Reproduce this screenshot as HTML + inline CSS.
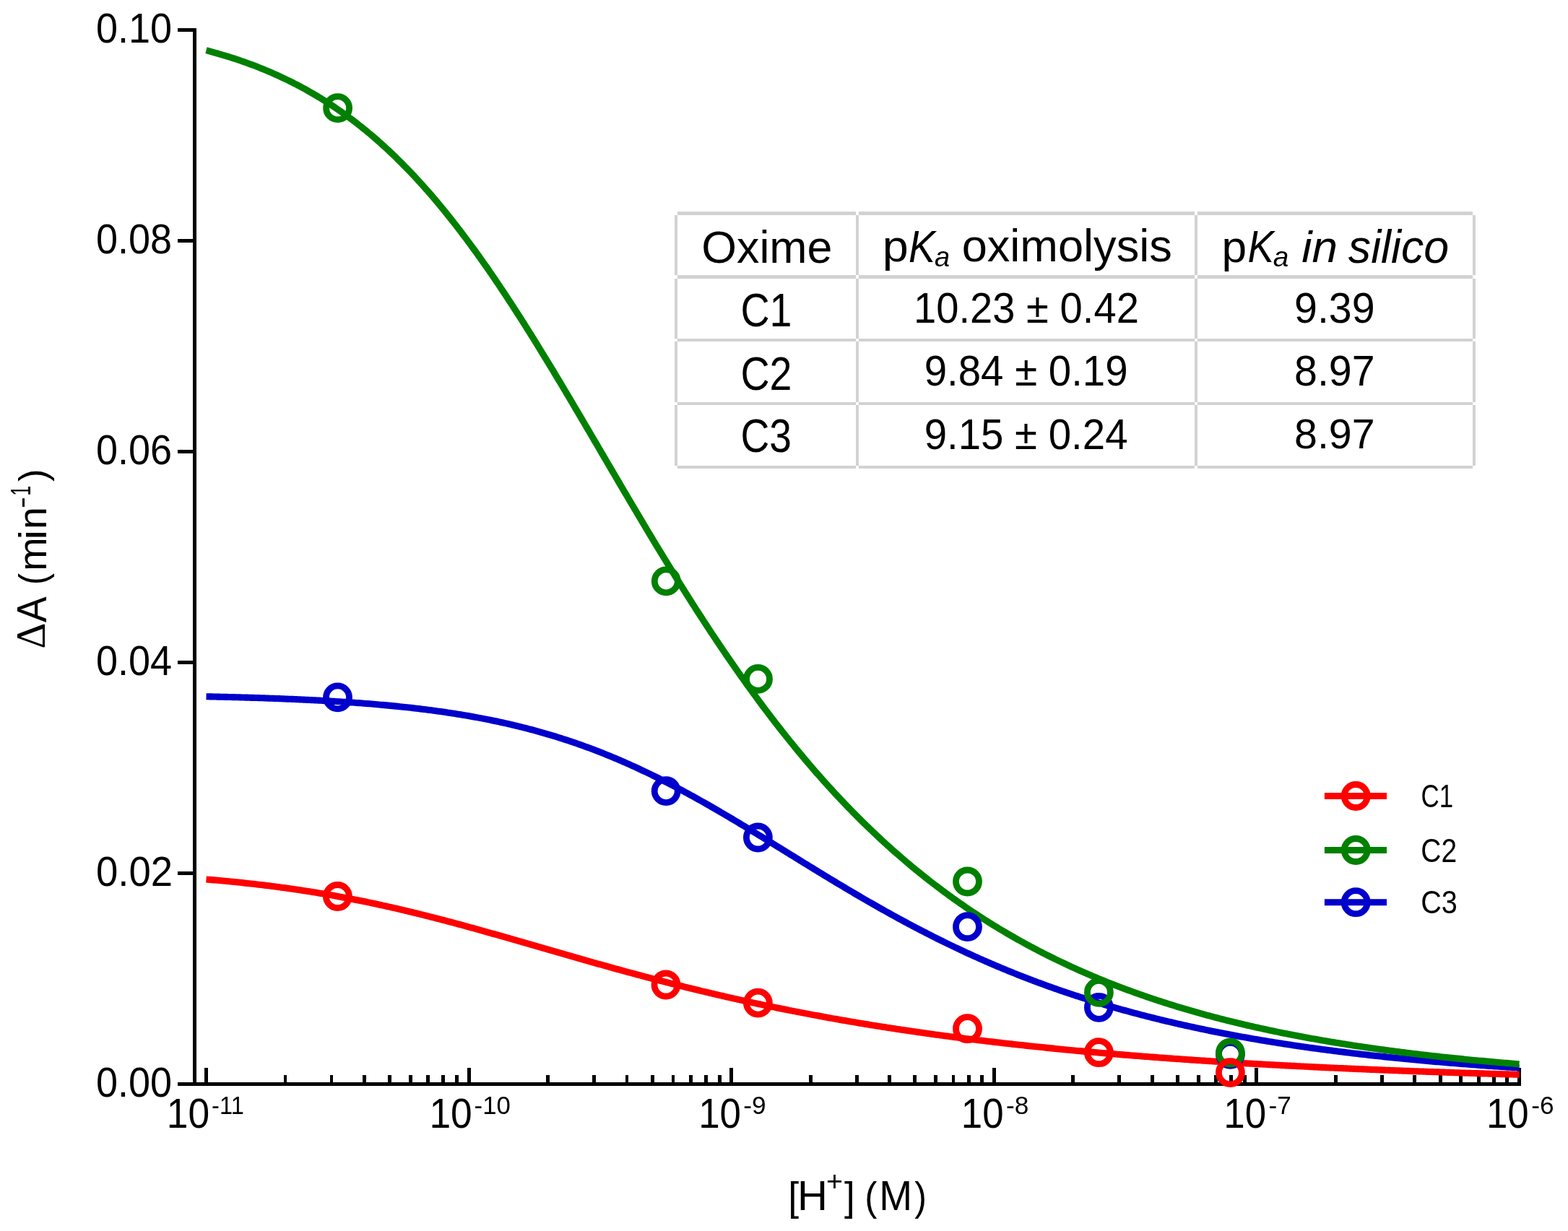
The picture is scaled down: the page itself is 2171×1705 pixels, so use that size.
<!DOCTYPE html>
<html><head><meta charset="utf-8"><title>pKa oximolysis</title><style>html,body{margin:0;padding:0;background:#fff;}svg{display:block;}</style></head><body>
<svg width="2171" height="1705" viewBox="0 0 2171 1705">
<rect width="2171" height="1705" fill="#fff"/>
<path d="M934,293 H938 V649 H934 Z M1185,293 H1189 V649 H1185 Z M1654,293 H1658 V649 H1654 Z M2039,293 H2043 V649 H2039 Z M934,293 V298 H2043 V293 Z M934,381 V386 H2043 V381 Z M934,469 V473 H2043 V469 Z M934,557 V561 H2043 V557 Z M934,645 V649 H2043 V645 Z" fill="#D2D2D2" shape-rendering="crispEdges"/>
<path d="M269.4,39.05 V1501.5 M246.0,1501.5 H2105.8 M246.0,1501.50 H269.4 M246.0,1209.50 H269.4 M246.0,917.50 H269.4 M246.0,625.50 H269.4 M246.0,333.50 H269.4 M246.0,41.50 H269.4 M285.50,1501.5 V1479.10 M394.95,1501.5 V1489.10 M458.98,1501.5 V1489.10 M504.41,1501.5 V1489.10 M539.65,1501.5 V1489.10 M568.44,1501.5 V1489.10 M592.78,1501.5 V1489.10 M613.86,1501.5 V1489.10 M632.46,1501.5 V1489.10 M649.10,1501.5 V1479.10 M758.55,1501.5 V1489.10 M822.58,1501.5 V1489.10 M868.01,1501.5 V1489.10 M903.25,1501.5 V1489.10 M932.04,1501.5 V1489.10 M956.38,1501.5 V1489.10 M977.46,1501.5 V1489.10 M996.06,1501.5 V1489.10 M1012.70,1501.5 V1479.10 M1122.15,1501.5 V1489.10 M1186.18,1501.5 V1489.10 M1231.61,1501.5 V1489.10 M1266.85,1501.5 V1489.10 M1295.64,1501.5 V1489.10 M1319.98,1501.5 V1489.10 M1341.06,1501.5 V1489.10 M1359.66,1501.5 V1489.10 M1376.30,1501.5 V1479.10 M1485.75,1501.5 V1489.10 M1549.78,1501.5 V1489.10 M1595.21,1501.5 V1489.10 M1630.45,1501.5 V1489.10 M1659.24,1501.5 V1489.10 M1683.58,1501.5 V1489.10 M1704.66,1501.5 V1489.10 M1723.26,1501.5 V1489.10 M1739.90,1501.5 V1479.10 M1849.35,1501.5 V1489.10 M1913.38,1501.5 V1489.10 M1958.81,1501.5 V1489.10 M1994.05,1501.5 V1489.10 M2022.84,1501.5 V1489.10 M2047.18,1501.5 V1489.10 M2068.26,1501.5 V1489.10 M2086.86,1501.5 V1489.10 M2103.50,1501.5 V1479.10" stroke="#000" stroke-width="4.9" fill="none" stroke-linecap="butt" shape-rendering="crispEdges"/>
<path d="M285.50,964.75 L288.10,964.81 L290.70,964.86 L293.30,964.92 L295.90,964.98 L298.50,965.03 L301.11,965.09 L303.71,965.15 L306.31,965.21 L308.91,965.27 L311.51,965.34 L314.11,965.40 L316.71,965.46 L319.31,965.53 L321.91,965.60 L324.51,965.66 L327.11,965.73 L329.71,965.80 L332.32,965.87 L334.92,965.95 L337.52,966.02 L340.12,966.10 L342.72,966.17 L345.32,966.25 L347.92,966.33 L350.52,966.41 L353.12,966.49 L355.72,966.57 L358.32,966.65 L360.92,966.74 L363.53,966.82 L366.13,966.91 L368.73,967.00 L371.33,967.09 L373.93,967.18 L376.53,967.28 L379.13,967.37 L381.73,967.47 L384.33,967.56 L386.93,967.66 L389.53,967.76 L392.14,967.87 L394.74,967.97 L397.34,968.08 L399.94,968.19 L402.54,968.29 L405.14,968.41 L407.74,968.52 L410.34,968.63 L412.94,968.75 L415.54,968.87 L418.14,968.99 L420.74,969.11 L423.35,969.23 L425.95,969.36 L428.55,969.49 L431.15,969.62 L433.75,969.75 L436.35,969.88 L438.95,970.02 L441.55,970.16 L444.15,970.30 L446.75,970.44 L449.35,970.59 L451.95,970.73 L454.56,970.88 L457.16,971.04 L459.76,971.19 L462.36,971.35 L464.96,971.51 L467.56,971.67 L470.16,971.83 L472.76,972.00 L475.36,972.17 L477.96,972.34 L480.56,972.51 L483.17,972.69 L485.77,972.87 L488.37,973.06 L490.97,973.24 L493.57,973.43 L496.17,973.62 L498.77,973.82 L501.37,974.01 L503.97,974.21 L506.57,974.42 L509.17,974.62 L511.77,974.83 L514.38,975.05 L516.98,975.26 L519.58,975.48 L522.18,975.70 L524.78,975.93 L527.38,976.16 L529.98,976.39 L532.58,976.63 L535.18,976.87 L537.78,977.11 L540.38,977.36 L542.98,977.61 L545.59,977.87 L548.19,978.13 L550.79,978.39 L553.39,978.66 L555.99,978.93 L558.59,979.20 L561.19,979.48 L563.79,979.76 L566.39,980.05 L568.99,980.34 L571.59,980.64 L574.20,980.94 L576.80,981.24 L579.40,981.55 L582.00,981.86 L584.60,982.18 L587.20,982.50 L589.80,982.83 L592.40,983.16 L595.00,983.50 L597.60,983.84 L600.20,984.18 L602.80,984.54 L605.41,984.89 L608.01,985.25 L610.61,985.62 L613.21,985.99 L615.81,986.37 L618.41,986.75 L621.01,987.14 L623.61,987.53 L626.21,987.93 L628.81,988.34 L631.41,988.75 L634.02,989.16 L636.62,989.58 L639.22,990.01 L641.82,990.44 L644.42,990.88 L647.02,991.33 L649.62,991.78 L652.22,992.24 L654.82,992.70 L657.42,993.17 L660.02,993.65 L662.62,994.13 L665.23,994.62 L667.83,995.11 L670.43,995.61 L673.03,996.12 L675.63,996.64 L678.23,997.16 L680.83,997.69 L683.43,998.23 L686.03,998.77 L688.63,999.32 L691.23,999.88 L693.83,1000.44 L696.44,1001.01 L699.04,1001.59 L701.64,1002.18 L704.24,1002.77 L706.84,1003.37 L709.44,1003.98 L712.04,1004.60 L714.64,1005.22 L717.24,1005.86 L719.84,1006.50 L722.44,1007.14 L725.05,1007.80 L727.65,1008.46 L730.25,1009.13 L732.85,1009.81 L735.45,1010.50 L738.05,1011.20 L740.65,1011.90 L743.25,1012.61 L745.85,1013.33 L748.45,1014.06 L751.05,1014.80 L753.65,1015.54 L756.26,1016.30 L758.86,1017.06 L761.46,1017.83 L764.06,1018.61 L766.66,1019.40 L769.26,1020.20 L771.86,1021.01 L774.46,1021.82 L777.06,1022.65 L779.66,1023.48 L782.26,1024.32 L784.86,1025.18 L787.47,1026.04 L790.07,1026.90 L792.67,1027.78 L795.27,1028.67 L797.87,1029.57 L800.47,1030.47 L803.07,1031.39 L805.67,1032.31 L808.27,1033.25 L810.87,1034.19 L813.47,1035.14 L816.08,1036.10 L818.68,1037.07 L821.28,1038.05 L823.88,1039.04 L826.48,1040.04 L829.08,1041.05 L831.68,1042.07 L834.28,1043.10 L836.88,1044.13 L839.48,1045.18 L842.08,1046.23 L844.68,1047.30 L847.29,1048.37 L849.89,1049.45 L852.49,1050.54 L855.09,1051.65 L857.69,1052.76 L860.29,1053.88 L862.89,1055.01 L865.49,1056.14 L868.09,1057.29 L870.69,1058.45 L873.29,1059.61 L875.89,1060.79 L878.50,1061.97 L881.10,1063.17 L883.70,1064.37 L886.30,1065.58 L888.90,1066.80 L891.50,1068.03 L894.10,1069.26 L896.70,1070.51 L899.30,1071.76 L901.90,1073.03 L904.50,1074.30 L907.11,1075.58 L909.71,1076.87 L912.31,1078.16 L914.91,1079.47 L917.51,1080.78 L920.11,1082.10 L922.71,1083.43 L925.31,1084.77 L927.91,1086.12 L930.51,1087.47 L933.11,1088.83 L935.71,1090.20 L938.32,1091.57 L940.92,1092.96 L943.52,1094.35 L946.12,1095.75 L948.72,1097.15 L951.32,1098.56 L953.92,1099.98 L956.52,1101.41 L959.12,1102.84 L961.72,1104.28 L964.32,1105.73 L966.92,1107.18 L969.53,1108.64 L972.13,1110.10 L974.73,1111.57 L977.33,1113.05 L979.93,1114.53 L982.53,1116.02 L985.13,1117.51 L987.73,1119.01 L990.33,1120.52 L992.93,1122.03 L995.53,1123.54 L998.14,1125.06 L1000.74,1126.59 L1003.34,1128.12 L1005.94,1129.65 L1008.54,1131.19 L1011.14,1132.73 L1013.74,1134.28 L1016.34,1135.83 L1018.94,1137.38 L1021.54,1138.94 L1024.14,1140.50 L1026.74,1142.07 L1029.35,1143.64 L1031.95,1145.21 L1034.55,1146.78 L1037.15,1148.36 L1039.75,1149.94 L1042.35,1151.52 L1044.95,1153.11 L1047.55,1154.70 L1050.15,1156.29 L1052.75,1157.88 L1055.35,1159.48 L1057.95,1161.07 L1060.56,1162.67 L1063.16,1164.27 L1065.76,1165.87 L1068.36,1167.47 L1070.96,1169.07 L1073.56,1170.68 L1076.16,1172.28 L1078.76,1173.89 L1081.36,1175.49 L1083.96,1177.10 L1086.56,1178.71 L1089.17,1180.31 L1091.77,1181.92 L1094.37,1183.53 L1096.97,1185.13 L1099.57,1186.74 L1102.17,1188.34 L1104.77,1189.95 L1107.37,1191.55 L1109.97,1193.16 L1112.57,1194.76 L1115.17,1196.36 L1117.77,1197.96 L1120.38,1199.56 L1122.98,1201.16 L1125.58,1202.75 L1128.18,1204.34 L1130.78,1205.94 L1133.38,1207.53 L1135.98,1209.11 L1138.58,1210.70 L1141.18,1212.28 L1143.78,1213.86 L1146.38,1215.44 L1148.98,1217.02 L1151.59,1218.59 L1154.19,1220.16 L1156.79,1221.73 L1159.39,1223.29 L1161.99,1224.85 L1164.59,1226.41 L1167.19,1227.97 L1169.79,1229.52 L1172.39,1231.06 L1174.99,1232.61 L1177.59,1234.15 L1180.20,1235.68 L1182.80,1237.22 L1185.40,1238.75 L1188.00,1240.27 L1190.60,1241.79 L1193.20,1243.31 L1195.80,1244.82 L1198.40,1246.33 L1201.00,1247.83 L1203.60,1249.33 L1206.20,1250.82 L1208.80,1252.31 L1211.41,1253.80 L1214.01,1255.28 L1216.61,1256.75 L1219.21,1258.22 L1221.81,1259.69 L1224.41,1261.15 L1227.01,1262.60 L1229.61,1264.05 L1232.21,1265.50 L1234.81,1266.94 L1237.41,1268.37 L1240.02,1269.80 L1242.62,1271.23 L1245.22,1272.65 L1247.82,1274.06 L1250.42,1275.47 L1253.02,1276.87 L1255.62,1278.26 L1258.22,1279.65 L1260.82,1281.04 L1263.42,1282.42 L1266.02,1283.79 L1268.62,1285.16 L1271.23,1286.52 L1273.83,1287.88 L1276.43,1289.23 L1279.03,1290.57 L1281.63,1291.91 L1284.23,1293.24 L1286.83,1294.57 L1289.43,1295.89 L1292.03,1297.20 L1294.63,1298.51 L1297.23,1299.81 L1299.83,1301.11 L1302.44,1302.40 L1305.04,1303.68 L1307.64,1304.96 L1310.24,1306.23 L1312.84,1307.50 L1315.44,1308.76 L1318.04,1310.01 L1320.64,1311.26 L1323.24,1312.50 L1325.84,1313.73 L1328.44,1314.96 L1331.05,1316.18 L1333.65,1317.39 L1336.25,1318.60 L1338.85,1319.81 L1341.45,1321.00 L1344.05,1322.19 L1346.65,1323.38 L1349.25,1324.55 L1351.85,1325.73 L1354.45,1326.89 L1357.05,1328.05 L1359.65,1329.20 L1362.26,1330.35 L1364.86,1331.49 L1367.46,1332.62 L1370.06,1333.75 L1372.66,1334.87 L1375.26,1335.99 L1377.86,1337.10 L1380.46,1338.20 L1383.06,1339.30 L1385.66,1340.39 L1388.26,1341.47 L1390.86,1342.55 L1393.47,1343.62 L1396.07,1344.69 L1398.67,1345.74 L1401.27,1346.80 L1403.87,1347.85 L1406.47,1348.89 L1409.07,1349.92 L1411.67,1350.95 L1414.27,1351.97 L1416.87,1352.99 L1419.47,1354.00 L1422.08,1355.01 L1424.68,1356.00 L1427.28,1357.00 L1429.88,1357.98 L1432.48,1358.97 L1435.08,1359.94 L1437.68,1360.91 L1440.28,1361.87 L1442.88,1362.83 L1445.48,1363.78 L1448.08,1364.73 L1450.68,1365.67 L1453.29,1366.60 L1455.89,1367.53 L1458.49,1368.45 L1461.09,1369.37 L1463.69,1370.28 L1466.29,1371.19 L1468.89,1372.09 L1471.49,1372.98 L1474.09,1373.87 L1476.69,1374.75 L1479.29,1375.63 L1481.89,1376.50 L1484.50,1377.37 L1487.10,1378.23 L1489.70,1379.08 L1492.30,1379.93 L1494.90,1380.78 L1497.50,1381.62 L1500.10,1382.45 L1502.70,1383.28 L1505.30,1384.10 L1507.90,1384.92 L1510.50,1385.73 L1513.11,1386.54 L1515.71,1387.34 L1518.31,1388.14 L1520.91,1388.93 L1523.51,1389.72 L1526.11,1390.50 L1528.71,1391.28 L1531.31,1392.05 L1533.91,1392.82 L1536.51,1393.58 L1539.11,1394.33 L1541.71,1395.08 L1544.32,1395.83 L1546.92,1396.57 L1549.52,1397.31 L1552.12,1398.04 L1554.72,1398.77 L1557.32,1399.49 L1559.92,1400.21 L1562.52,1400.92 L1565.12,1401.63 L1567.72,1402.33 L1570.32,1403.03 L1572.92,1403.72 L1575.53,1404.41 L1578.13,1405.10 L1580.73,1405.78 L1583.33,1406.45 L1585.93,1407.12 L1588.53,1407.79 L1591.13,1408.45 L1593.73,1409.11 L1596.33,1409.76 L1598.93,1410.41 L1601.53,1411.05 L1604.14,1411.69 L1606.74,1412.33 L1609.34,1412.96 L1611.94,1413.59 L1614.54,1414.21 L1617.14,1414.83 L1619.74,1415.44 L1622.34,1416.05 L1624.94,1416.66 L1627.54,1417.26 L1630.14,1417.86 L1632.74,1418.45 L1635.35,1419.04 L1637.95,1419.63 L1640.55,1420.21 L1643.15,1420.79 L1645.75,1421.36 L1648.35,1421.93 L1650.95,1422.50 L1653.55,1423.06 L1656.15,1423.62 L1658.75,1424.17 L1661.35,1424.72 L1663.95,1425.27 L1666.56,1425.81 L1669.16,1426.35 L1671.76,1426.88 L1674.36,1427.42 L1676.96,1427.94 L1679.56,1428.47 L1682.16,1428.99 L1684.76,1429.51 L1687.36,1430.02 L1689.96,1430.53 L1692.56,1431.04 L1695.17,1431.54 L1697.77,1432.04 L1700.37,1432.54 L1702.97,1433.03 L1705.57,1433.52 L1708.17,1434.00 L1710.77,1434.49 L1713.37,1434.97 L1715.97,1435.44 L1718.57,1435.91 L1721.17,1436.38 L1723.77,1436.85 L1726.38,1437.31 L1728.98,1437.77 L1731.58,1438.23 L1734.18,1438.68 L1736.78,1439.13 L1739.38,1439.58 L1741.98,1440.02 L1744.58,1440.46 L1747.18,1440.90 L1749.78,1441.33 L1752.38,1441.76 L1754.98,1442.19 L1757.59,1442.62 L1760.19,1443.04 L1762.79,1443.46 L1765.39,1443.88 L1767.99,1444.29 L1770.59,1444.70 L1773.19,1445.11 L1775.79,1445.51 L1778.39,1445.92 L1780.99,1446.32 L1783.59,1446.71 L1786.20,1447.11 L1788.80,1447.50 L1791.40,1447.88 L1794.00,1448.27 L1796.60,1448.65 L1799.20,1449.03 L1801.80,1449.41 L1804.40,1449.79 L1807.00,1450.16 L1809.60,1450.53 L1812.20,1450.89 L1814.80,1451.26 L1817.41,1451.62 L1820.01,1451.98 L1822.61,1452.34 L1825.21,1452.69 L1827.81,1453.04 L1830.41,1453.39 L1833.01,1453.74 L1835.61,1454.08 L1838.21,1454.42 L1840.81,1454.76 L1843.41,1455.10 L1846.02,1455.43 L1848.62,1455.77 L1851.22,1456.10 L1853.82,1456.42 L1856.42,1456.75 L1859.02,1457.07 L1861.62,1457.39 L1864.22,1457.71 L1866.82,1458.03 L1869.42,1458.34 L1872.02,1458.65 L1874.62,1458.96 L1877.23,1459.27 L1879.83,1459.58 L1882.43,1459.88 L1885.03,1460.18 L1887.63,1460.48 L1890.23,1460.77 L1892.83,1461.07 L1895.43,1461.36 L1898.03,1461.65 L1900.63,1461.94 L1903.23,1462.23 L1905.83,1462.51 L1908.44,1462.79 L1911.04,1463.07 L1913.64,1463.35 L1916.24,1463.63 L1918.84,1463.90 L1921.44,1464.17 L1924.04,1464.44 L1926.64,1464.71 L1929.24,1464.98 L1931.84,1465.24 L1934.44,1465.51 L1937.05,1465.77 L1939.65,1466.03 L1942.25,1466.28 L1944.85,1466.54 L1947.45,1466.79 L1950.05,1467.05 L1952.65,1467.30 L1955.25,1467.54 L1957.85,1467.79 L1960.45,1468.04 L1963.05,1468.28 L1965.65,1468.52 L1968.26,1468.76 L1970.86,1469.00 L1973.46,1469.23 L1976.06,1469.47 L1978.66,1469.70 L1981.26,1469.93 L1983.86,1470.16 L1986.46,1470.39 L1989.06,1470.62 L1991.66,1470.84 L1994.26,1471.06 L1996.86,1471.28 L1999.47,1471.50 L2002.07,1471.72 L2004.67,1471.94 L2007.27,1472.15 L2009.87,1472.37 L2012.47,1472.58 L2015.07,1472.79 L2017.67,1473.00 L2020.27,1473.21 L2022.87,1473.41 L2025.47,1473.62 L2028.08,1473.82 L2030.68,1474.02 L2033.28,1474.22 L2035.88,1474.42 L2038.48,1474.62 L2041.08,1474.82 L2043.68,1475.01 L2046.28,1475.21 L2048.88,1475.40 L2051.48,1475.59 L2054.08,1475.78 L2056.68,1475.97 L2059.29,1476.15 L2061.89,1476.34 L2064.49,1476.52 L2067.09,1476.70 L2069.69,1476.89 L2072.29,1477.07 L2074.89,1477.24 L2077.49,1477.42 L2080.09,1477.60 L2082.69,1477.77 L2085.29,1477.95 L2087.89,1478.12 L2090.50,1478.29 L2093.10,1478.46 L2095.70,1478.63 L2098.30,1478.80 L2100.90,1478.96 L2103.50,1479.13" stroke="#0000CC" stroke-width="9.1" fill="none" stroke-linejoin="round"/>
<path d="M285.50,69.72 L288.10,70.40 L290.70,71.10 L293.30,71.81 L295.90,72.53 L298.50,73.26 L301.11,74.00 L303.71,74.76 L306.31,75.52 L308.91,76.29 L311.51,77.08 L314.11,77.88 L316.71,78.69 L319.31,79.51 L321.91,80.34 L324.51,81.19 L327.11,82.05 L329.71,82.92 L332.32,83.80 L334.92,84.70 L337.52,85.61 L340.12,86.53 L342.72,87.47 L345.32,88.42 L347.92,89.38 L350.52,90.36 L353.12,91.35 L355.72,92.35 L358.32,93.37 L360.92,94.41 L363.53,95.46 L366.13,96.52 L368.73,97.60 L371.33,98.69 L373.93,99.80 L376.53,100.92 L379.13,102.07 L381.73,103.22 L384.33,104.39 L386.93,105.58 L389.53,106.79 L392.14,108.01 L394.74,109.25 L397.34,110.50 L399.94,111.77 L402.54,113.06 L405.14,114.37 L407.74,115.69 L410.34,117.03 L412.94,118.39 L415.54,119.77 L418.14,121.17 L420.74,122.58 L423.35,124.02 L425.95,125.47 L428.55,126.94 L431.15,128.43 L433.75,129.95 L436.35,131.48 L438.95,133.03 L441.55,134.59 L444.15,136.18 L446.75,137.79 L449.35,139.43 L451.95,141.08 L454.56,142.75 L457.16,144.44 L459.76,146.16 L462.36,147.89 L464.96,149.65 L467.56,151.43 L470.16,153.23 L472.76,155.05 L475.36,156.90 L477.96,158.76 L480.56,160.65 L483.17,162.56 L485.77,164.50 L488.37,166.46 L490.97,168.44 L493.57,170.44 L496.17,172.47 L498.77,174.52 L501.37,176.59 L503.97,178.69 L506.57,180.81 L509.17,182.96 L511.77,185.13 L514.38,187.32 L516.98,189.54 L519.58,191.78 L522.18,194.05 L524.78,196.34 L527.38,198.66 L529.98,201.00 L532.58,203.37 L535.18,205.76 L537.78,208.18 L540.38,210.62 L542.98,213.09 L545.59,215.58 L548.19,218.10 L550.79,220.64 L553.39,223.21 L555.99,225.81 L558.59,228.43 L561.19,231.08 L563.79,233.75 L566.39,236.45 L568.99,239.17 L571.59,241.92 L574.20,244.70 L576.80,247.50 L579.40,250.33 L582.00,253.19 L584.60,256.07 L587.20,258.97 L589.80,261.90 L592.40,264.86 L595.00,267.85 L597.60,270.85 L600.20,273.89 L602.80,276.95 L605.41,280.04 L608.01,283.15 L610.61,286.29 L613.21,289.45 L615.81,292.64 L618.41,295.85 L621.01,299.09 L623.61,302.36 L626.21,305.65 L628.81,308.96 L631.41,312.30 L634.02,315.67 L636.62,319.05 L639.22,322.47 L641.82,325.90 L644.42,329.36 L647.02,332.85 L649.62,336.36 L652.22,339.89 L654.82,343.45 L657.42,347.03 L660.02,350.63 L662.62,354.25 L665.23,357.90 L667.83,361.57 L670.43,365.26 L673.03,368.98 L675.63,372.71 L678.23,376.47 L680.83,380.25 L683.43,384.05 L686.03,387.87 L688.63,391.71 L691.23,395.57 L693.83,399.45 L696.44,403.35 L699.04,407.27 L701.64,411.21 L704.24,415.17 L706.84,419.15 L709.44,423.14 L712.04,427.15 L714.64,431.18 L717.24,435.23 L719.84,439.30 L722.44,443.38 L725.05,447.47 L727.65,451.59 L730.25,455.72 L732.85,459.86 L735.45,464.02 L738.05,468.19 L740.65,472.38 L743.25,476.58 L745.85,480.80 L748.45,485.03 L751.05,489.27 L753.65,493.52 L756.26,497.78 L758.86,502.06 L761.46,506.35 L764.06,510.65 L766.66,514.96 L769.26,519.28 L771.86,523.60 L774.46,527.94 L777.06,532.29 L779.66,536.65 L782.26,541.01 L784.86,545.38 L787.47,549.76 L790.07,554.15 L792.67,558.54 L795.27,562.94 L797.87,567.34 L800.47,571.75 L803.07,576.17 L805.67,580.58 L808.27,585.01 L810.87,589.44 L813.47,593.87 L816.08,598.30 L818.68,602.74 L821.28,607.18 L823.88,611.62 L826.48,616.06 L829.08,620.50 L831.68,624.94 L834.28,629.39 L836.88,633.83 L839.48,638.28 L842.08,642.72 L844.68,647.16 L847.29,651.60 L849.89,656.04 L852.49,660.48 L855.09,664.91 L857.69,669.34 L860.29,673.77 L862.89,678.20 L865.49,682.62 L868.09,687.03 L870.69,691.44 L873.29,695.85 L875.89,700.25 L878.50,704.65 L881.10,709.04 L883.70,713.42 L886.30,717.80 L888.90,722.17 L891.50,726.53 L894.10,730.89 L896.70,735.23 L899.30,739.57 L901.90,743.90 L904.50,748.23 L907.11,752.54 L909.71,756.85 L912.31,761.14 L914.91,765.43 L917.51,769.70 L920.11,773.97 L922.71,778.22 L925.31,782.47 L927.91,786.70 L930.51,790.92 L933.11,795.13 L935.71,799.33 L938.32,803.52 L940.92,807.70 L943.52,811.86 L946.12,816.01 L948.72,820.15 L951.32,824.27 L953.92,828.38 L956.52,832.48 L959.12,836.57 L961.72,840.64 L964.32,844.69 L966.92,848.74 L969.53,852.77 L972.13,856.78 L974.73,860.78 L977.33,864.77 L979.93,868.74 L982.53,872.70 L985.13,876.64 L987.73,880.56 L990.33,884.47 L992.93,888.37 L995.53,892.25 L998.14,896.11 L1000.74,899.96 L1003.34,903.79 L1005.94,907.60 L1008.54,911.40 L1011.14,915.19 L1013.74,918.95 L1016.34,922.71 L1018.94,926.44 L1021.54,930.16 L1024.14,933.86 L1026.74,937.54 L1029.35,941.21 L1031.95,944.86 L1034.55,948.49 L1037.15,952.11 L1039.75,955.71 L1042.35,959.29 L1044.95,962.85 L1047.55,966.40 L1050.15,969.93 L1052.75,973.44 L1055.35,976.94 L1057.95,980.41 L1060.56,983.87 L1063.16,987.32 L1065.76,990.74 L1068.36,994.15 L1070.96,997.54 L1073.56,1000.91 L1076.16,1004.27 L1078.76,1007.60 L1081.36,1010.92 L1083.96,1014.23 L1086.56,1017.51 L1089.17,1020.78 L1091.77,1024.02 L1094.37,1027.26 L1096.97,1030.47 L1099.57,1033.67 L1102.17,1036.84 L1104.77,1040.00 L1107.37,1043.15 L1109.97,1046.27 L1112.57,1049.38 L1115.17,1052.47 L1117.77,1055.54 L1120.38,1058.60 L1122.98,1061.64 L1125.58,1064.66 L1128.18,1067.66 L1130.78,1070.64 L1133.38,1073.61 L1135.98,1076.56 L1138.58,1079.50 L1141.18,1082.41 L1143.78,1085.31 L1146.38,1088.19 L1148.98,1091.06 L1151.59,1093.90 L1154.19,1096.73 L1156.79,1099.55 L1159.39,1102.34 L1161.99,1105.12 L1164.59,1107.88 L1167.19,1110.63 L1169.79,1113.36 L1172.39,1116.07 L1174.99,1118.76 L1177.59,1121.44 L1180.20,1124.10 L1182.80,1126.75 L1185.40,1129.38 L1188.00,1131.99 L1190.60,1134.59 L1193.20,1137.17 L1195.80,1139.73 L1198.40,1142.28 L1201.00,1144.81 L1203.60,1147.32 L1206.20,1149.82 L1208.80,1152.30 L1211.41,1154.77 L1214.01,1157.22 L1216.61,1159.66 L1219.21,1162.08 L1221.81,1164.48 L1224.41,1166.87 L1227.01,1169.24 L1229.61,1171.60 L1232.21,1173.94 L1234.81,1176.27 L1237.41,1178.58 L1240.02,1180.88 L1242.62,1183.16 L1245.22,1185.43 L1247.82,1187.68 L1250.42,1189.92 L1253.02,1192.14 L1255.62,1194.35 L1258.22,1196.54 L1260.82,1198.72 L1263.42,1200.88 L1266.02,1203.03 L1268.62,1205.17 L1271.23,1207.29 L1273.83,1209.39 L1276.43,1211.49 L1279.03,1213.57 L1281.63,1215.63 L1284.23,1217.68 L1286.83,1219.72 L1289.43,1221.74 L1292.03,1223.75 L1294.63,1225.74 L1297.23,1227.73 L1299.83,1229.70 L1302.44,1231.65 L1305.04,1233.59 L1307.64,1235.52 L1310.24,1237.44 L1312.84,1239.34 L1315.44,1241.23 L1318.04,1243.10 L1320.64,1244.97 L1323.24,1246.82 L1325.84,1248.66 L1328.44,1250.48 L1331.05,1252.30 L1333.65,1254.10 L1336.25,1255.88 L1338.85,1257.66 L1341.45,1259.42 L1344.05,1261.17 L1346.65,1262.91 L1349.25,1264.64 L1351.85,1266.35 L1354.45,1268.06 L1357.05,1269.75 L1359.65,1271.43 L1362.26,1273.09 L1364.86,1274.75 L1367.46,1276.39 L1370.06,1278.03 L1372.66,1279.65 L1375.26,1281.26 L1377.86,1282.86 L1380.46,1284.45 L1383.06,1286.02 L1385.66,1287.59 L1388.26,1289.14 L1390.86,1290.69 L1393.47,1292.22 L1396.07,1293.74 L1398.67,1295.25 L1401.27,1296.75 L1403.87,1298.24 L1406.47,1299.72 L1409.07,1301.19 L1411.67,1302.65 L1414.27,1304.10 L1416.87,1305.54 L1419.47,1306.96 L1422.08,1308.38 L1424.68,1309.79 L1427.28,1311.19 L1429.88,1312.57 L1432.48,1313.95 L1435.08,1315.32 L1437.68,1316.68 L1440.28,1318.03 L1442.88,1319.37 L1445.48,1320.70 L1448.08,1322.02 L1450.68,1323.33 L1453.29,1324.63 L1455.89,1325.92 L1458.49,1327.20 L1461.09,1328.48 L1463.69,1329.74 L1466.29,1331.00 L1468.89,1332.24 L1471.49,1333.48 L1474.09,1334.71 L1476.69,1335.93 L1479.29,1337.14 L1481.89,1338.34 L1484.50,1339.54 L1487.10,1340.72 L1489.70,1341.90 L1492.30,1343.07 L1494.90,1344.23 L1497.50,1345.38 L1500.10,1346.52 L1502.70,1347.66 L1505.30,1348.78 L1507.90,1349.90 L1510.50,1351.01 L1513.11,1352.12 L1515.71,1353.21 L1518.31,1354.30 L1520.91,1355.38 L1523.51,1356.45 L1526.11,1357.51 L1528.71,1358.57 L1531.31,1359.62 L1533.91,1360.66 L1536.51,1361.69 L1539.11,1362.72 L1541.71,1363.74 L1544.32,1364.75 L1546.92,1365.75 L1549.52,1366.75 L1552.12,1367.74 L1554.72,1368.72 L1557.32,1369.69 L1559.92,1370.66 L1562.52,1371.62 L1565.12,1372.58 L1567.72,1373.52 L1570.32,1374.46 L1572.92,1375.40 L1575.53,1376.32 L1578.13,1377.24 L1580.73,1378.16 L1583.33,1379.06 L1585.93,1379.96 L1588.53,1380.86 L1591.13,1381.74 L1593.73,1382.63 L1596.33,1383.50 L1598.93,1384.37 L1601.53,1385.23 L1604.14,1386.08 L1606.74,1386.93 L1609.34,1387.78 L1611.94,1388.61 L1614.54,1389.44 L1617.14,1390.27 L1619.74,1391.09 L1622.34,1391.90 L1624.94,1392.71 L1627.54,1393.51 L1630.14,1394.30 L1632.74,1395.09 L1635.35,1395.88 L1637.95,1396.65 L1640.55,1397.43 L1643.15,1398.19 L1645.75,1398.95 L1648.35,1399.71 L1650.95,1400.46 L1653.55,1401.20 L1656.15,1401.94 L1658.75,1402.68 L1661.35,1403.41 L1663.95,1404.13 L1666.56,1404.85 L1669.16,1405.56 L1671.76,1406.27 L1674.36,1406.97 L1676.96,1407.67 L1679.56,1408.36 L1682.16,1409.05 L1684.76,1409.73 L1687.36,1410.40 L1689.96,1411.08 L1692.56,1411.74 L1695.17,1412.41 L1697.77,1413.06 L1700.37,1413.72 L1702.97,1414.36 L1705.57,1415.01 L1708.17,1415.65 L1710.77,1416.28 L1713.37,1416.91 L1715.97,1417.53 L1718.57,1418.15 L1721.17,1418.77 L1723.77,1419.38 L1726.38,1419.99 L1728.98,1420.59 L1731.58,1421.19 L1734.18,1421.78 L1736.78,1422.37 L1739.38,1422.95 L1741.98,1423.53 L1744.58,1424.11 L1747.18,1424.68 L1749.78,1425.25 L1752.38,1425.81 L1754.98,1426.37 L1757.59,1426.93 L1760.19,1427.48 L1762.79,1428.03 L1765.39,1428.57 L1767.99,1429.11 L1770.59,1429.64 L1773.19,1430.18 L1775.79,1430.70 L1778.39,1431.23 L1780.99,1431.75 L1783.59,1432.26 L1786.20,1432.78 L1788.80,1433.28 L1791.40,1433.79 L1794.00,1434.29 L1796.60,1434.79 L1799.20,1435.28 L1801.80,1435.77 L1804.40,1436.26 L1807.00,1436.74 L1809.60,1437.22 L1812.20,1437.70 L1814.80,1438.17 L1817.41,1438.64 L1820.01,1439.10 L1822.61,1439.57 L1825.21,1440.03 L1827.81,1440.48 L1830.41,1440.93 L1833.01,1441.38 L1835.61,1441.83 L1838.21,1442.27 L1840.81,1442.71 L1843.41,1443.14 L1846.02,1443.58 L1848.62,1444.01 L1851.22,1444.43 L1853.82,1444.86 L1856.42,1445.28 L1859.02,1445.69 L1861.62,1446.11 L1864.22,1446.52 L1866.82,1446.93 L1869.42,1447.33 L1872.02,1447.73 L1874.62,1448.13 L1877.23,1448.53 L1879.83,1448.92 L1882.43,1449.31 L1885.03,1449.70 L1887.63,1450.08 L1890.23,1450.47 L1892.83,1450.84 L1895.43,1451.22 L1898.03,1451.59 L1900.63,1451.97 L1903.23,1452.33 L1905.83,1452.70 L1908.44,1453.06 L1911.04,1453.42 L1913.64,1453.78 L1916.24,1454.13 L1918.84,1454.49 L1921.44,1454.83 L1924.04,1455.18 L1926.64,1455.53 L1929.24,1455.87 L1931.84,1456.21 L1934.44,1456.54 L1937.05,1456.88 L1939.65,1457.21 L1942.25,1457.54 L1944.85,1457.87 L1947.45,1458.19 L1950.05,1458.51 L1952.65,1458.83 L1955.25,1459.15 L1957.85,1459.47 L1960.45,1459.78 L1963.05,1460.09 L1965.65,1460.40 L1968.26,1460.71 L1970.86,1461.01 L1973.46,1461.31 L1976.06,1461.61 L1978.66,1461.91 L1981.26,1462.20 L1983.86,1462.50 L1986.46,1462.79 L1989.06,1463.08 L1991.66,1463.36 L1994.26,1463.65 L1996.86,1463.93 L1999.47,1464.21 L2002.07,1464.49 L2004.67,1464.76 L2007.27,1465.04 L2009.87,1465.31 L2012.47,1465.58 L2015.07,1465.85 L2017.67,1466.11 L2020.27,1466.38 L2022.87,1466.64 L2025.47,1466.90 L2028.08,1467.16 L2030.68,1467.42 L2033.28,1467.67 L2035.88,1467.92 L2038.48,1468.17 L2041.08,1468.42 L2043.68,1468.67 L2046.28,1468.92 L2048.88,1469.16 L2051.48,1469.40 L2054.08,1469.64 L2056.68,1469.88 L2059.29,1470.12 L2061.89,1470.35 L2064.49,1470.58 L2067.09,1470.82 L2069.69,1471.05 L2072.29,1471.27 L2074.89,1471.50 L2077.49,1471.72 L2080.09,1471.95 L2082.69,1472.17 L2085.29,1472.39 L2087.89,1472.61 L2090.50,1472.82 L2093.10,1473.04 L2095.70,1473.25 L2098.30,1473.46 L2100.90,1473.67 L2103.50,1473.88" stroke="#008000" stroke-width="9.1" fill="none" stroke-linejoin="round"/>
<path d="M285.50,1217.97 L288.10,1218.18 L290.70,1218.40 L293.30,1218.62 L295.90,1218.85 L298.50,1219.08 L301.11,1219.31 L303.71,1219.54 L306.31,1219.78 L308.91,1220.02 L311.51,1220.26 L314.11,1220.51 L316.71,1220.76 L319.31,1221.01 L321.91,1221.26 L324.51,1221.52 L327.11,1221.79 L329.71,1222.05 L332.32,1222.32 L334.92,1222.59 L337.52,1222.87 L340.12,1223.15 L342.72,1223.43 L345.32,1223.72 L347.92,1224.01 L350.52,1224.30 L353.12,1224.60 L355.72,1224.90 L358.32,1225.20 L360.92,1225.51 L363.53,1225.82 L366.13,1226.14 L368.73,1226.45 L371.33,1226.78 L373.93,1227.10 L376.53,1227.43 L379.13,1227.77 L381.73,1228.10 L384.33,1228.44 L386.93,1228.79 L389.53,1229.14 L392.14,1229.49 L394.74,1229.85 L397.34,1230.21 L399.94,1230.57 L402.54,1230.94 L405.14,1231.32 L407.74,1231.69 L410.34,1232.07 L412.94,1232.46 L415.54,1232.85 L418.14,1233.24 L420.74,1233.64 L423.35,1234.04 L425.95,1234.44 L428.55,1234.85 L431.15,1235.27 L433.75,1235.68 L436.35,1236.11 L438.95,1236.53 L441.55,1236.96 L444.15,1237.40 L446.75,1237.83 L449.35,1238.28 L451.95,1238.72 L454.56,1239.18 L457.16,1239.63 L459.76,1240.09 L462.36,1240.55 L464.96,1241.02 L467.56,1241.49 L470.16,1241.97 L472.76,1242.45 L475.36,1242.94 L477.96,1243.43 L480.56,1243.92 L483.17,1244.42 L485.77,1244.92 L488.37,1245.42 L490.97,1245.93 L493.57,1246.45 L496.17,1246.97 L498.77,1247.49 L501.37,1248.02 L503.97,1248.55 L506.57,1249.08 L509.17,1249.62 L511.77,1250.16 L514.38,1250.71 L516.98,1251.26 L519.58,1251.82 L522.18,1252.38 L524.78,1252.94 L527.38,1253.51 L529.98,1254.08 L532.58,1254.65 L535.18,1255.23 L537.78,1255.82 L540.38,1256.40 L542.98,1256.99 L545.59,1257.59 L548.19,1258.19 L550.79,1258.79 L553.39,1259.39 L555.99,1260.00 L558.59,1260.61 L561.19,1261.23 L563.79,1261.85 L566.39,1262.48 L568.99,1263.10 L571.59,1263.73 L574.20,1264.37 L576.80,1265.00 L579.40,1265.64 L582.00,1266.29 L584.60,1266.94 L587.20,1267.59 L589.80,1268.24 L592.40,1268.90 L595.00,1269.56 L597.60,1270.22 L600.20,1270.89 L602.80,1271.56 L605.41,1272.23 L608.01,1272.90 L610.61,1273.58 L613.21,1274.26 L615.81,1274.94 L618.41,1275.63 L621.01,1276.32 L623.61,1277.01 L626.21,1277.70 L628.81,1278.40 L631.41,1279.10 L634.02,1279.80 L636.62,1280.50 L639.22,1281.21 L641.82,1281.91 L644.42,1282.62 L647.02,1283.34 L649.62,1284.05 L652.22,1284.77 L654.82,1285.48 L657.42,1286.20 L660.02,1286.93 L662.62,1287.65 L665.23,1288.37 L667.83,1289.10 L670.43,1289.83 L673.03,1290.56 L675.63,1291.29 L678.23,1292.02 L680.83,1292.76 L683.43,1293.50 L686.03,1294.23 L688.63,1294.97 L691.23,1295.71 L693.83,1296.45 L696.44,1297.19 L699.04,1297.94 L701.64,1298.68 L704.24,1299.43 L706.84,1300.17 L709.44,1300.92 L712.04,1301.66 L714.64,1302.41 L717.24,1303.16 L719.84,1303.91 L722.44,1304.66 L725.05,1305.41 L727.65,1306.16 L730.25,1306.91 L732.85,1307.66 L735.45,1308.41 L738.05,1309.17 L740.65,1309.92 L743.25,1310.67 L745.85,1311.42 L748.45,1312.18 L751.05,1312.93 L753.65,1313.68 L756.26,1314.43 L758.86,1315.18 L761.46,1315.94 L764.06,1316.69 L766.66,1317.44 L769.26,1318.19 L771.86,1318.94 L774.46,1319.69 L777.06,1320.44 L779.66,1321.19 L782.26,1321.94 L784.86,1322.68 L787.47,1323.43 L790.07,1324.18 L792.67,1324.92 L795.27,1325.67 L797.87,1326.41 L800.47,1327.15 L803.07,1327.90 L805.67,1328.64 L808.27,1329.38 L810.87,1330.12 L813.47,1330.86 L816.08,1331.59 L818.68,1332.33 L821.28,1333.06 L823.88,1333.80 L826.48,1334.53 L829.08,1335.26 L831.68,1335.99 L834.28,1336.72 L836.88,1337.45 L839.48,1338.17 L842.08,1338.90 L844.68,1339.62 L847.29,1340.34 L849.89,1341.06 L852.49,1341.78 L855.09,1342.50 L857.69,1343.21 L860.29,1343.93 L862.89,1344.64 L865.49,1345.35 L868.09,1346.06 L870.69,1346.77 L873.29,1347.47 L875.89,1348.17 L878.50,1348.88 L881.10,1349.58 L883.70,1350.27 L886.30,1350.97 L888.90,1351.66 L891.50,1352.36 L894.10,1353.05 L896.70,1353.74 L899.30,1354.42 L901.90,1355.11 L904.50,1355.79 L907.11,1356.47 L909.71,1357.15 L912.31,1357.83 L914.91,1358.50 L917.51,1359.17 L920.11,1359.84 L922.71,1360.51 L925.31,1361.18 L927.91,1361.84 L930.51,1362.51 L933.11,1363.17 L935.71,1363.82 L938.32,1364.48 L940.92,1365.13 L943.52,1365.78 L946.12,1366.43 L948.72,1367.08 L951.32,1367.72 L953.92,1368.37 L956.52,1369.01 L959.12,1369.64 L961.72,1370.28 L964.32,1370.91 L966.92,1371.54 L969.53,1372.17 L972.13,1372.80 L974.73,1373.42 L977.33,1374.04 L979.93,1374.66 L982.53,1375.28 L985.13,1375.90 L987.73,1376.51 L990.33,1377.12 L992.93,1377.73 L995.53,1378.33 L998.14,1378.94 L1000.74,1379.54 L1003.34,1380.14 L1005.94,1380.73 L1008.54,1381.33 L1011.14,1381.92 L1013.74,1382.51 L1016.34,1383.09 L1018.94,1383.68 L1021.54,1384.26 L1024.14,1384.84 L1026.74,1385.42 L1029.35,1385.99 L1031.95,1386.56 L1034.55,1387.13 L1037.15,1387.70 L1039.75,1388.27 L1042.35,1388.83 L1044.95,1389.39 L1047.55,1389.95 L1050.15,1390.51 L1052.75,1391.06 L1055.35,1391.61 L1057.95,1392.16 L1060.56,1392.71 L1063.16,1393.25 L1065.76,1393.79 L1068.36,1394.33 L1070.96,1394.87 L1073.56,1395.41 L1076.16,1395.94 L1078.76,1396.47 L1081.36,1397.00 L1083.96,1397.52 L1086.56,1398.05 L1089.17,1398.57 L1091.77,1399.09 L1094.37,1399.60 L1096.97,1400.12 L1099.57,1400.63 L1102.17,1401.14 L1104.77,1401.65 L1107.37,1402.15 L1109.97,1402.65 L1112.57,1403.15 L1115.17,1403.65 L1117.77,1404.15 L1120.38,1404.64 L1122.98,1405.13 L1125.58,1405.62 L1128.18,1406.11 L1130.78,1406.59 L1133.38,1407.08 L1135.98,1407.56 L1138.58,1408.03 L1141.18,1408.51 L1143.78,1408.98 L1146.38,1409.45 L1148.98,1409.92 L1151.59,1410.39 L1154.19,1410.86 L1156.79,1411.32 L1159.39,1411.78 L1161.99,1412.24 L1164.59,1412.69 L1167.19,1413.15 L1169.79,1413.60 L1172.39,1414.05 L1174.99,1414.50 L1177.59,1414.94 L1180.20,1415.38 L1182.80,1415.83 L1185.40,1416.26 L1188.00,1416.70 L1190.60,1417.14 L1193.20,1417.57 L1195.80,1418.00 L1198.40,1418.43 L1201.00,1418.86 L1203.60,1419.28 L1206.20,1419.70 L1208.80,1420.12 L1211.41,1420.54 L1214.01,1420.96 L1216.61,1421.37 L1219.21,1421.78 L1221.81,1422.20 L1224.41,1422.60 L1227.01,1423.01 L1229.61,1423.41 L1232.21,1423.82 L1234.81,1424.22 L1237.41,1424.62 L1240.02,1425.01 L1242.62,1425.41 L1245.22,1425.80 L1247.82,1426.19 L1250.42,1426.58 L1253.02,1426.97 L1255.62,1427.35 L1258.22,1427.74 L1260.82,1428.12 L1263.42,1428.50 L1266.02,1428.87 L1268.62,1429.25 L1271.23,1429.62 L1273.83,1430.00 L1276.43,1430.37 L1279.03,1430.73 L1281.63,1431.10 L1284.23,1431.46 L1286.83,1431.83 L1289.43,1432.19 L1292.03,1432.55 L1294.63,1432.91 L1297.23,1433.26 L1299.83,1433.61 L1302.44,1433.97 L1305.04,1434.32 L1307.64,1434.67 L1310.24,1435.01 L1312.84,1435.36 L1315.44,1435.70 L1318.04,1436.04 L1320.64,1436.38 L1323.24,1436.72 L1325.84,1437.06 L1328.44,1437.39 L1331.05,1437.73 L1333.65,1438.06 L1336.25,1438.39 L1338.85,1438.72 L1341.45,1439.04 L1344.05,1439.37 L1346.65,1439.69 L1349.25,1440.01 L1351.85,1440.33 L1354.45,1440.65 L1357.05,1440.97 L1359.65,1441.28 L1362.26,1441.60 L1364.86,1441.91 L1367.46,1442.22 L1370.06,1442.53 L1372.66,1442.84 L1375.26,1443.14 L1377.86,1443.45 L1380.46,1443.75 L1383.06,1444.05 L1385.66,1444.35 L1388.26,1444.65 L1390.86,1444.94 L1393.47,1445.24 L1396.07,1445.53 L1398.67,1445.82 L1401.27,1446.12 L1403.87,1446.40 L1406.47,1446.69 L1409.07,1446.98 L1411.67,1447.26 L1414.27,1447.55 L1416.87,1447.83 L1419.47,1448.11 L1422.08,1448.39 L1424.68,1448.67 L1427.28,1448.94 L1429.88,1449.22 L1432.48,1449.49 L1435.08,1449.76 L1437.68,1450.03 L1440.28,1450.30 L1442.88,1450.57 L1445.48,1450.84 L1448.08,1451.10 L1450.68,1451.36 L1453.29,1451.63 L1455.89,1451.89 L1458.49,1452.15 L1461.09,1452.41 L1463.69,1452.66 L1466.29,1452.92 L1468.89,1453.17 L1471.49,1453.43 L1474.09,1453.68 L1476.69,1453.93 L1479.29,1454.18 L1481.89,1454.43 L1484.50,1454.67 L1487.10,1454.92 L1489.70,1455.16 L1492.30,1455.41 L1494.90,1455.65 L1497.50,1455.89 L1500.10,1456.13 L1502.70,1456.36 L1505.30,1456.60 L1507.90,1456.84 L1510.50,1457.07 L1513.11,1457.30 L1515.71,1457.54 L1518.31,1457.77 L1520.91,1458.00 L1523.51,1458.23 L1526.11,1458.45 L1528.71,1458.68 L1531.31,1458.90 L1533.91,1459.13 L1536.51,1459.35 L1539.11,1459.57 L1541.71,1459.79 L1544.32,1460.01 L1546.92,1460.23 L1549.52,1460.45 L1552.12,1460.66 L1554.72,1460.88 L1557.32,1461.09 L1559.92,1461.30 L1562.52,1461.51 L1565.12,1461.72 L1567.72,1461.93 L1570.32,1462.14 L1572.92,1462.35 L1575.53,1462.55 L1578.13,1462.76 L1580.73,1462.96 L1583.33,1463.17 L1585.93,1463.37 L1588.53,1463.57 L1591.13,1463.77 L1593.73,1463.97 L1596.33,1464.16 L1598.93,1464.36 L1601.53,1464.56 L1604.14,1464.75 L1606.74,1464.94 L1609.34,1465.14 L1611.94,1465.33 L1614.54,1465.52 L1617.14,1465.71 L1619.74,1465.90 L1622.34,1466.09 L1624.94,1466.27 L1627.54,1466.46 L1630.14,1466.64 L1632.74,1466.83 L1635.35,1467.01 L1637.95,1467.19 L1640.55,1467.37 L1643.15,1467.55 L1645.75,1467.73 L1648.35,1467.91 L1650.95,1468.09 L1653.55,1468.26 L1656.15,1468.44 L1658.75,1468.61 L1661.35,1468.79 L1663.95,1468.96 L1666.56,1469.13 L1669.16,1469.30 L1671.76,1469.47 L1674.36,1469.64 L1676.96,1469.81 L1679.56,1469.98 L1682.16,1470.14 L1684.76,1470.31 L1687.36,1470.47 L1689.96,1470.64 L1692.56,1470.80 L1695.17,1470.96 L1697.77,1471.13 L1700.37,1471.29 L1702.97,1471.45 L1705.57,1471.61 L1708.17,1471.76 L1710.77,1471.92 L1713.37,1472.08 L1715.97,1472.23 L1718.57,1472.39 L1721.17,1472.54 L1723.77,1472.70 L1726.38,1472.85 L1728.98,1473.00 L1731.58,1473.15 L1734.18,1473.30 L1736.78,1473.45 L1739.38,1473.60 L1741.98,1473.75 L1744.58,1473.89 L1747.18,1474.04 L1749.78,1474.19 L1752.38,1474.33 L1754.98,1474.47 L1757.59,1474.62 L1760.19,1474.76 L1762.79,1474.90 L1765.39,1475.04 L1767.99,1475.18 L1770.59,1475.32 L1773.19,1475.46 L1775.79,1475.60 L1778.39,1475.74 L1780.99,1475.87 L1783.59,1476.01 L1786.20,1476.15 L1788.80,1476.28 L1791.40,1476.41 L1794.00,1476.55 L1796.60,1476.68 L1799.20,1476.81 L1801.80,1476.94 L1804.40,1477.07 L1807.00,1477.20 L1809.60,1477.33 L1812.20,1477.46 L1814.80,1477.59 L1817.41,1477.72 L1820.01,1477.84 L1822.61,1477.97 L1825.21,1478.09 L1827.81,1478.22 L1830.41,1478.34 L1833.01,1478.47 L1835.61,1478.59 L1838.21,1478.71 L1840.81,1478.83 L1843.41,1478.95 L1846.02,1479.07 L1848.62,1479.19 L1851.22,1479.31 L1853.82,1479.43 L1856.42,1479.55 L1859.02,1479.66 L1861.62,1479.78 L1864.22,1479.90 L1866.82,1480.01 L1869.42,1480.13 L1872.02,1480.24 L1874.62,1480.35 L1877.23,1480.47 L1879.83,1480.58 L1882.43,1480.69 L1885.03,1480.80 L1887.63,1480.91 L1890.23,1481.02 L1892.83,1481.13 L1895.43,1481.24 L1898.03,1481.35 L1900.63,1481.46 L1903.23,1481.56 L1905.83,1481.67 L1908.44,1481.78 L1911.04,1481.88 L1913.64,1481.99 L1916.24,1482.09 L1918.84,1482.19 L1921.44,1482.30 L1924.04,1482.40 L1926.64,1482.50 L1929.24,1482.60 L1931.84,1482.71 L1934.44,1482.81 L1937.05,1482.91 L1939.65,1483.01 L1942.25,1483.11 L1944.85,1483.20 L1947.45,1483.30 L1950.05,1483.40 L1952.65,1483.50 L1955.25,1483.59 L1957.85,1483.69 L1960.45,1483.78 L1963.05,1483.88 L1965.65,1483.97 L1968.26,1484.07 L1970.86,1484.16 L1973.46,1484.25 L1976.06,1484.35 L1978.66,1484.44 L1981.26,1484.53 L1983.86,1484.62 L1986.46,1484.71 L1989.06,1484.80 L1991.66,1484.89 L1994.26,1484.98 L1996.86,1485.07 L1999.47,1485.16 L2002.07,1485.25 L2004.67,1485.34 L2007.27,1485.42 L2009.87,1485.51 L2012.47,1485.59 L2015.07,1485.68 L2017.67,1485.77 L2020.27,1485.85 L2022.87,1485.93 L2025.47,1486.02 L2028.08,1486.10 L2030.68,1486.19 L2033.28,1486.27 L2035.88,1486.35 L2038.48,1486.43 L2041.08,1486.51 L2043.68,1486.59 L2046.28,1486.67 L2048.88,1486.75 L2051.48,1486.83 L2054.08,1486.91 L2056.68,1486.99 L2059.29,1487.07 L2061.89,1487.15 L2064.49,1487.23 L2067.09,1487.30 L2069.69,1487.38 L2072.29,1487.46 L2074.89,1487.53 L2077.49,1487.61 L2080.09,1487.68 L2082.69,1487.76 L2085.29,1487.83 L2087.89,1487.91 L2090.50,1487.98 L2093.10,1488.05 L2095.70,1488.13 L2098.30,1488.20 L2100.90,1488.27 L2103.50,1488.34" stroke="#FF0000" stroke-width="9.1" fill="none" stroke-linejoin="round"/>
<circle cx="467.5" cy="965.9" r="16.0" stroke="#0000CC" stroke-width="8.8" fill="none"/>
<circle cx="922.2" cy="1095.6" r="16.0" stroke="#0000CC" stroke-width="8.8" fill="none"/>
<circle cx="1049.4" cy="1160" r="16.0" stroke="#0000CC" stroke-width="8.8" fill="none"/>
<circle cx="1339.5" cy="1283.7" r="16.0" stroke="#0000CC" stroke-width="8.8" fill="none"/>
<circle cx="1521.4" cy="1395.3" r="16.0" stroke="#0000CC" stroke-width="8.8" fill="none"/>
<circle cx="1703.4" cy="1460.3" r="16.0" stroke="#0000CC" stroke-width="8.8" fill="none"/>
<circle cx="467.6" cy="149.7" r="16.0" stroke="#008000" stroke-width="8.8" fill="none"/>
<circle cx="922.3" cy="804.9" r="16.0" stroke="#008000" stroke-width="8.8" fill="none"/>
<circle cx="1049.5" cy="940.4" r="16.0" stroke="#008000" stroke-width="8.8" fill="none"/>
<circle cx="1339.5" cy="1221" r="16.0" stroke="#008000" stroke-width="8.8" fill="none"/>
<circle cx="1521.4" cy="1374.4" r="16.0" stroke="#008000" stroke-width="8.8" fill="none"/>
<circle cx="1703.4" cy="1458.2" r="16.0" stroke="#008000" stroke-width="8.8" fill="none"/>
<circle cx="467.4" cy="1241.5" r="16.0" stroke="#FF0000" stroke-width="8.8" fill="none"/>
<circle cx="922" cy="1364" r="16.0" stroke="#FF0000" stroke-width="8.8" fill="none"/>
<circle cx="1049.4" cy="1389.1" r="16.0" stroke="#FF0000" stroke-width="8.8" fill="none"/>
<circle cx="1339.5" cy="1424.7" r="16.0" stroke="#FF0000" stroke-width="8.8" fill="none"/>
<circle cx="1521.4" cy="1457.7" r="16.0" stroke="#FF0000" stroke-width="8.8" fill="none"/>
<circle cx="1703.4" cy="1485.7" r="16.0" stroke="#FF0000" stroke-width="8.8" fill="none"/>
<path d="M1833.9,1102.5 H1920" stroke="#FF0000" stroke-width="9.1"/>
<circle cx="1877.2" cy="1102.5" r="16.0" stroke="#FF0000" stroke-width="8.8" fill="none"/>
<path d="M1833.9,1177.5 H1920" stroke="#008000" stroke-width="9.1"/>
<circle cx="1877.2" cy="1177.5" r="16.0" stroke="#008000" stroke-width="8.8" fill="none"/>
<path d="M1833.9,1249.7 H1920" stroke="#0000CC" stroke-width="9.1"/>
<circle cx="1877.2" cy="1249.7" r="16.0" stroke="#0000CC" stroke-width="8.8" fill="none"/>
<text transform="matrix(0.7942 0 0 1.0290 1967.41 1118.00)" font-family="Liberation Sans" font-size="44" fill="#000">C1</text>
<text transform="matrix(0.8865 0 0 1.0323 1967.23 1193.90)" font-family="Liberation Sans" font-size="44" fill="#000">C2</text>
<text transform="matrix(0.9019 0 0 1.0194 1967.20 1264.80)" font-family="Liberation Sans" font-size="44" fill="#000">C3</text>
<text transform="matrix(0.9912 0 0 1.0541 132.92 1519.10)" font-family="Liberation Sans" font-size="54.5" fill="#000">0.00</text>
<text transform="matrix(1.0010 0 0 1.0541 132.90 1227.10)" font-family="Liberation Sans" font-size="54.5" fill="#000">0.02</text>
<text transform="matrix(0.9912 0 0 1.0541 132.92 935.10)" font-family="Liberation Sans" font-size="54.5" fill="#000">0.04</text>
<text transform="matrix(0.9912 0 0 1.0541 132.92 643.10)" font-family="Liberation Sans" font-size="54.5" fill="#000">0.06</text>
<text transform="matrix(0.9912 0 0 1.0541 132.92 351.10)" font-family="Liberation Sans" font-size="54.5" fill="#000">0.08</text>
<text transform="matrix(0.9912 0 0 1.0541 132.92 59.10)" font-family="Liberation Sans" font-size="54.5" fill="#000">0.10</text>
<text transform="matrix(0.9709 0 0 1.0289 230.82 1562.00)" font-family="Liberation Sans" font-size="55" fill="#000">10</text>
<text transform="matrix(0.8935 0 0 0.9615 293.11 1543.00)" font-family="Liberation Sans" font-size="36.5" fill="#000">-11</text>
<text transform="matrix(0.9709 0 0 1.0289 594.42 1562.00)" font-family="Liberation Sans" font-size="55" fill="#000">10</text>
<text transform="matrix(0.9531 0 0 0.9615 656.59 1543.00)" font-family="Liberation Sans" font-size="36.5" fill="#000">-10</text>
<text transform="matrix(0.9618 0 0 1.0289 967.15 1562.00)" font-family="Liberation Sans" font-size="55" fill="#000">10</text>
<text transform="matrix(0.9655 0 0 0.9615 1029.37 1543.00)" font-family="Liberation Sans" font-size="36.5" fill="#000">-9</text>
<text transform="matrix(0.9618 0 0 1.0289 1330.75 1562.00)" font-family="Liberation Sans" font-size="55" fill="#000">10</text>
<text transform="matrix(0.9655 0 0 0.9615 1392.97 1543.00)" font-family="Liberation Sans" font-size="36.5" fill="#000">-8</text>
<text transform="matrix(0.9618 0 0 1.0289 1694.35 1562.00)" font-family="Liberation Sans" font-size="55" fill="#000">10</text>
<text transform="matrix(0.9655 0 0 0.9615 1756.57 1543.00)" font-family="Liberation Sans" font-size="36.5" fill="#000">-7</text>
<text transform="matrix(0.9618 0 0 1.0289 2057.95 1562.00)" font-family="Liberation Sans" font-size="55" fill="#000">10</text>
<text transform="matrix(0.9655 0 0 0.9615 2120.17 1543.00)" font-family="Liberation Sans" font-size="36.5" fill="#000">-6</text>
<text transform="matrix(0.9799 0 0 0.9702 971.26 363.80)" font-family="Liberation Sans" font-size="64" fill="#000">Oxime</text>
<text transform="matrix(1.0103 0 0 0.9681 1221.66 362.11)" font-family="Liberation Sans" font-size="64" fill="#000">p</text>
<text transform="matrix(0.8667 0 0 0.9733 1257.97 362.80)" font-family="Liberation Sans" font-size="64" font-style="italic" fill="#000">K</text>
<text transform="matrix(0.9500 0 0 0.9636 1294.05 368.80)" font-family="Liberation Sans" font-size="40" font-style="italic" fill="#000">a</text>
<text transform="matrix(0.9869 0 0 0.9917 1331.64 361.81)" font-family="Liberation Sans" font-size="64" fill="#000">oximolysis</text>
<text transform="matrix(0.9724 0 0 0.9617 1691.41 362.50)" font-family="Liberation Sans" font-size="64" fill="#000">p</text>
<text transform="matrix(0.8548 0 0 0.9756 1727.49 362.90)" font-family="Liberation Sans" font-size="64" font-style="italic" fill="#000">K</text>
<text transform="matrix(0.9700 0 0 0.9727 1762.83 369.00)" font-family="Liberation Sans" font-size="40" font-style="italic" fill="#000">a</text>
<text transform="matrix(1.0000 0 0 0.9553 1802.30 362.90)" font-family="Liberation Sans" font-size="64" font-style="italic" fill="#000">in</text>
<text transform="matrix(0.9799 0 0 1.0255 1866.82 363.50)" font-family="Liberation Sans" font-size="64" font-style="italic" fill="#000">silico</text>
<text transform="matrix(0.8684 0 0 1.0178 1025.39 451.60)" font-family="Liberation Sans" font-size="64" fill="#000">C1</text>
<text transform="matrix(0.8684 0 0 1.0178 1025.39 539.60)" font-family="Liberation Sans" font-size="64" fill="#000">C2</text>
<text transform="matrix(0.8618 0 0 1.0178 1025.41 626.40)" font-family="Liberation Sans" font-size="64" fill="#000">C3</text>
<text transform="matrix(0.9686 0 0 1.0275 1264.93 446.70)" font-family="Liberation Sans" font-size="58" fill="#000">10.23 ± 0.42</text>
<text transform="matrix(0.9729 0 0 1.0175 1279.68 533.60)" font-family="Liberation Sans" font-size="58" fill="#000">9.84 ± 0.19</text>
<text transform="matrix(0.9726 0 0 1.0250 1279.68 621.60)" font-family="Liberation Sans" font-size="58" fill="#000">9.15 ± 0.24</text>
<text transform="matrix(0.9888 0 0 1.0150 1792.03 447.20)" font-family="Liberation Sans" font-size="58" fill="#000">9.39</text>
<text transform="matrix(0.9888 0 0 1.0075 1792.03 533.70)" font-family="Liberation Sans" font-size="58" fill="#000">8.97</text>
<text transform="matrix(0.9888 0 0 1.0000 1792.03 621.30)" font-family="Liberation Sans" font-size="58" fill="#000">8.97</text>
<text transform="matrix(0.9250 0 0 0.9426 1091.20 1675.59)" font-family="Liberation Sans" font-size="58" fill="#000">[</text>
<text transform="matrix(1.0000 0 0 1.0000 1104.00 1676.00)" font-family="Liberation Sans" font-size="58" fill="#000">H</text>
<text transform="matrix(0.6786 0 0 0.6750 1143.96 1649.28)" font-family="Liberation Sans" font-size="58" fill="#000">+</text>
<text transform="matrix(0.9083 0 0 0.9426 1169.10 1675.59)" font-family="Liberation Sans" font-size="58" fill="#000">]</text>
<text transform="matrix(0.8867 0 0 0.9426 1197.25 1675.59)" font-family="Liberation Sans" font-size="58" fill="#000">(</text>
<text transform="matrix(0.9487 0 0 1.0000 1217.26 1676.00)" font-family="Liberation Sans" font-size="58" fill="#000">M</text>
<text transform="matrix(0.8667 0 0 0.9426 1266.13 1675.59)" font-family="Liberation Sans" font-size="58" fill="#000">)</text>
<text transform="matrix(0 -0.9606 0.9711 0 61.90 898.62)" font-family="Liberation Serif" font-size="58" fill="#000">Δ</text>
<text transform="matrix(0 -0.9237 1.0025 0 64.10 862.00)" font-family="Liberation Sans" font-size="58" fill="#000">A</text>
<text transform="matrix(0 -0.8267 0.9296 0 63.64 809.91)" font-family="Liberation Sans" font-size="58" fill="#000">(</text>
<text transform="matrix(0 -0.9675 0.9500 0 63.70 791.07)" font-family="Liberation Sans" font-size="58" fill="#000">m</text>
<text transform="matrix(0 -1.0600 0.9310 0 63.70 747.44)" font-family="Liberation Sans" font-size="58" fill="#000">i</text>
<text transform="matrix(0 -0.9542 0.9500 0 63.70 732.92)" font-family="Liberation Sans" font-size="58" fill="#000">n</text>
<text transform="matrix(0 -1.2667 1.0000 0 42.80 704.33)" font-family="Liberation Sans" font-size="38.5" fill="#000">-</text>
<text transform="matrix(0 -0.6529 1.0296 0 41.90 686.76)" font-family="Liberation Sans" font-size="38.5" fill="#000">1</text>
<text transform="matrix(0 -0.9000 0.9296 0 63.64 667.00)" font-family="Liberation Sans" font-size="58" fill="#000">)</text>
</svg>
</body></html>
